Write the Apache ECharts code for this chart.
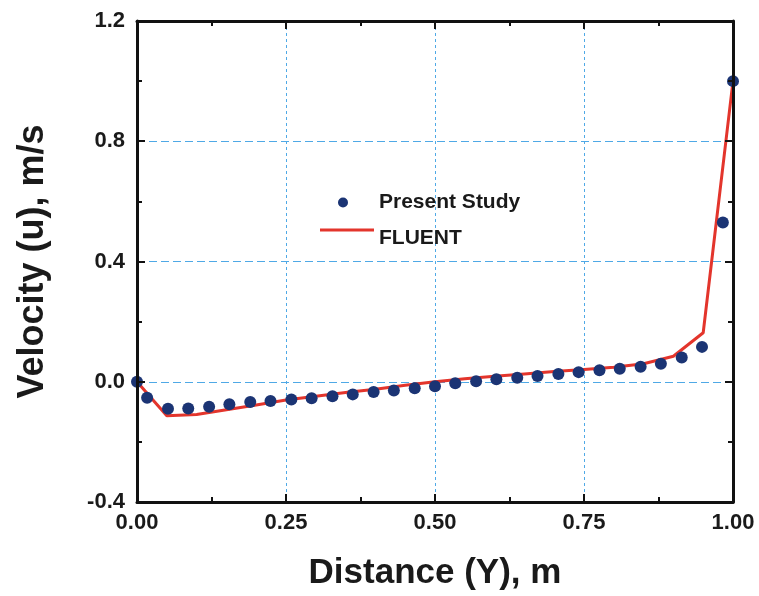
<!DOCTYPE html>
<html>
<head>
<meta charset="utf-8">
<script src="https://cdn.jsdelivr.net/npm/echarts@6/dist/echarts.min.js"></script>
<style>
  html, body { margin: 0; padding: 0; background: #fff; }
  #chart { width: 759px; height: 596px; }
</style>
</head>
<body>
<div id="chart"></div>
<script>
// Velocity profile u(Y): numerical results vs. FLUENT
const studyY = [0.000, 0.017, 0.052, 0.086, 0.121, 0.155, 0.190, 0.224, 0.259, 0.293,
                0.328, 0.362, 0.397, 0.431, 0.466, 0.500, 0.534, 0.569, 0.603, 0.638,
                0.672, 0.707, 0.741, 0.776, 0.810, 0.845, 0.879, 0.914, 0.948, 0.983, 1.000];
const studyU = [0.000, -0.053, -0.090, -0.089, -0.083, -0.075, -0.067, -0.064, -0.059, -0.055,
                -0.048, -0.042, -0.034, -0.029, -0.022, -0.015, -0.005, 0.002, 0.008, 0.013,
                0.019, 0.026, 0.032, 0.038, 0.043, 0.050, 0.060, 0.081, 0.116, 0.530, 1.000];

const fluentY = [0.00, 0.05, 0.10, 0.15, 0.20, 0.25, 0.30, 0.35, 0.40, 0.45, 0.50,
                 0.55, 0.60, 0.65, 0.70, 0.75, 0.80, 0.85, 0.90, 0.95, 1.00];
const fluentU = [0.000, -0.113, -0.109, -0.093, -0.077, -0.061, -0.048, -0.036, -0.025, -0.012, 0.000,
                 0.010, 0.018, 0.026, 0.034, 0.041, 0.048, 0.060, 0.085, 0.163, 1.000];

const xTicks = { min: 0, max: 1, interval: 0.25 };
const yTicks = { min: -0.4, max: 1.2, interval: 0.4 };

const FONT = '"Liberation Sans", Arial, sans-serif';
const INK = '#1a1a1a';
const tickLabel = { fontFamily: FONT, fontWeight: 'bold', fontSize: 22, color: INK };
const frameLine = { show: true, onZero: false, lineStyle: { color: '#111', width: 3 } };
const majorTick = { show: true, inside: true, length: 8, lineStyle: { color: '#111', width: 2 } };
const minorTick = { show: true, splitNumber: 2, length: 5, lineStyle: { color: '#111', width: 2 } };
const vGrid = { show: true, lineStyle: { color: '#4fa9e6', width: 1, type: [3, 3] } };
const hGrid = { show: true, lineStyle: { color: '#4fa9e6', width: 1, type: [8, 4] } };

// Legend icons share a 54x20 box: dot left of centre, line a little above the text centre
const dotIcon = 'path://M0,0M54,20M18,10A5,5,0,1,0,28,10A5,5,0,1,0,18,10Z';
const lineIcon = 'path://M0,0M54,20M0,0L54,0L54,3L0,3Z';

const chart = echarts.init(document.getElementById('chart'));
chart.setOption({
  backgroundColor: '#ffffff',
  animation: false,
  grid: { left: 137, right: 26, top: 21, bottom: 93 },
  legend: {
    left: 315, top: 187, orient: 'vertical',
    itemWidth: 54, itemHeight: 20, itemGap: 15,
    textStyle: { fontFamily: FONT, fontWeight: 'bold', fontSize: 21, color: INK },
    data: [
      { name: 'Present Study', icon: dotIcon },
      { name: 'FLUENT', icon: lineIcon }
    ]
  },
  xAxis: [
    {
      type: 'value', position: 'bottom', ...xTicks, z: 5,
      name: 'Distance (Y), m', nameLocation: 'middle', nameGap: 54,
      nameTextStyle: { fontFamily: FONT, fontWeight: 'bold', fontSize: 35, color: INK },
      axisLine: frameLine, axisTick: majorTick, minorTick: minorTick,
      axisLabel: { ...tickLabel, margin: 10, formatter: v => v.toFixed(2) },
      splitLine: { show: false }
    },
    {
      type: 'value', position: 'top', ...xTicks, z: 5,
      axisLine: frameLine, axisTick: majorTick, minorTick: minorTick,
      axisLabel: { show: false }, splitLine: { show: false }
    },
    {
      type: 'value', position: 'bottom', ...xTicks, z: 0,
      axisLine: { show: false }, axisTick: { show: false },
      axisLabel: { show: false }, splitLine: vGrid
    }
  ],
  yAxis: [
    {
      type: 'value', position: 'left', ...yTicks, z: 5,
      name: 'Velocity (u), m/s', nameLocation: 'middle', nameGap: 86,
      nameTextStyle: { fontFamily: FONT, fontWeight: 'bold', fontSize: 36, color: INK },
      axisLine: frameLine, axisTick: majorTick, minorTick: minorTick,
      axisLabel: { ...tickLabel, margin: 12, formatter: v => v.toFixed(1) },
      splitLine: { show: false }
    },
    {
      type: 'value', position: 'right', ...yTicks, z: 5,
      axisLine: frameLine, axisTick: majorTick, minorTick: minorTick,
      axisLabel: { show: false }, splitLine: { show: false }
    },
    {
      type: 'value', position: 'left', ...yTicks, z: 0,
      axisLine: { show: false }, axisTick: { show: false },
      axisLabel: { show: false }, splitLine: hGrid
    }
  ],
  series: [
    {
      name: 'FLUENT', type: 'line', xAxisIndex: 0, yAxisIndex: 0,
      data: fluentY.map((y, i) => [y, fluentU[i]]),
      showSymbol: false, symbol: 'none',
      lineStyle: { color: '#e3352c', width: 3 },
      itemStyle: { color: '#e3352c' },
      z: 2
    },
    {
      name: 'Present Study', type: 'scatter', xAxisIndex: 0, yAxisIndex: 0,
      data: studyY.map((y, i) => [y, studyU[i]]),
      symbol: 'circle', symbolSize: 12,
      itemStyle: { color: '#1b3474', opacity: 1 },
      z: 3
    }
  ]
});
</script>
</body>
</html>
